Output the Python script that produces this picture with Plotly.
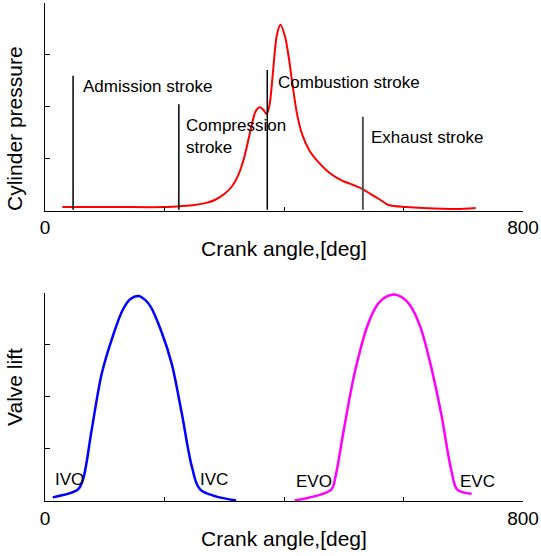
import plotly.graph_objects as go

# Cylinder pressure over one engine cycle (arbitrary units, 0-4)
angle_p = [29, 120, 200, 230, 250, 270, 285, 300, 313, 324, 334, 344, 352, 359, 365, 371,
           376, 381, 388, 394, 402, 408, 414, 422, 431, 443, 458, 477, 497, 515, 531, 545,
           561, 575, 605, 633, 689, 721]
pressure = [0.07, 0.07, 0.07, 0.09, 0.11, 0.15, 0.21, 0.32, 0.47, 0.70, 1.05, 1.55, 1.90,
            1.99, 1.95, 1.86, 2.05, 2.60, 3.38, 3.58, 3.34, 2.95, 2.45, 1.85, 1.45, 1.15,
            0.93, 0.72, 0.58, 0.50, 0.42, 0.32, 0.21, 0.11, 0.07, 0.05, 0.03, 0.05]

# Stroke boundary markers
stroke_angle = [47, 224, 372, 532]
stroke_top = [2.60, 2.05, 2.71, 1.81]
stroke_color = ["black", "black", "black", "#555555"]
stroke_width = [1.5, 1.5, 1.5, 2]
stroke_names = ["Admission stroke", "Compression<br>stroke", "Combustion stroke", "Exhaust stroke"]
stroke_label_x = [60, 232, 386, 543]
stroke_label_y = [2.40, 1.43, 2.46, 1.40]

# Valve lift profiles
angle_iv = [13, 55, 64, 78, 95, 113, 130, 143, 156, 168, 177, 194, 212, 229, 246, 260, 320]
lift_iv = [0.07, 0.22, 0.43, 1.36, 2.45, 3.15, 3.67, 3.88, 3.94, 3.86, 3.73, 3.28, 2.64,
           1.68, 0.65, 0.22, 0.01]
angle_ev = [418, 479, 486, 500, 518, 541, 558, 572, 585, 598, 611, 628, 645, 663, 680, 690, 714]
lift_ev = [0.01, 0.22, 0.46, 1.36, 2.45, 3.41, 3.80, 3.93, 3.97, 3.91, 3.76, 3.35, 2.64,
           1.68, 0.59, 0.22, 0.14]

valve_labels = ["IVO", "IVC", "EVO", "EVC"]
valve_label_x = [14, 256, 417, 691]
valve_label_y = [0.41, 0.41, 0.38, 0.38]

x_ticks = [0, 200, 400, 600, 800]
x_ticktext = ["0", "", "", "", "800"]
y_ticks = [0, 1, 2, 3, 4]

FONT = "Liberation Sans, Arial, sans-serif"

fig = go.Figure()

fig.add_trace(go.Scatter(x=angle_p, y=pressure, mode="lines",
                         line=dict(color="#ff0000", width=2, shape="spline", smoothing=0.8),
                         xaxis="x", yaxis="y", showlegend=False))

for a, top, c, w in zip(stroke_angle, stroke_top, stroke_color, stroke_width):
    fig.add_trace(go.Scatter(x=[a, a], y=[0.02, top], mode="lines",
                             line=dict(color=c, width=w),
                             xaxis="x", yaxis="y", showlegend=False))

fig.add_trace(go.Scatter(x=angle_iv, y=lift_iv, mode="lines",
                         line=dict(color="#0000ff", width=2.5, shape="spline", smoothing=0.9),
                         xaxis="x2", yaxis="y2", showlegend=False))
fig.add_trace(go.Scatter(x=angle_ev, y=lift_ev, mode="lines",
                         line=dict(color="#ff00ff", width=2.5, shape="spline", smoothing=0.9),
                         xaxis="x2", yaxis="y2", showlegend=False))

annotations = []
for t, x, y in zip(stroke_names, stroke_label_x, stroke_label_y):
    annotations.append(dict(text=t, x=x, y=y, xref="x", yref="y", xanchor="left",
                            yanchor="middle", showarrow=False, align="left",
                            font=dict(size=17, color="black", family=FONT)))
for t, x, y in zip(valve_labels, valve_label_x, valve_label_y):
    annotations.append(dict(text=t, x=x, y=y, xref="x2", yref="y2", xanchor="left",
                            yanchor="middle", showarrow=False,
                            font=dict(size=17, color="black", family=FONT)))

# Vertical axis titles
for t, y in [("Cylinder pressure", 0.749), ("Valve lift", 0.229)]:
    annotations.append(dict(text=t, x=-0.0628, y=y, xref="paper", yref="paper",
                            xanchor="center", yanchor="middle", textangle=-90,
                            showarrow=False,
                            font=dict(size=21, color="black", family=FONT)))

xaxis_style = dict(range=[0, 800], tickvals=x_ticks, ticktext=x_ticktext,
                   ticks="inside", ticklen=4, tickcolor="black", showline=True,
                   linecolor="black", linewidth=1, showgrid=False, zeroline=False,
                   tickfont=dict(size=19, color="black", family=FONT),
                   title=dict(text="Crank angle,[deg]", standoff=3,
                              font=dict(size=21, color="black", family=FONT)))
yaxis_style = dict(range=[0, 4], tickvals=y_ticks, showticklabels=False,
                   ticks="inside", ticklen=5, tickcolor="black", showline=True,
                   linecolor="black", linewidth=1, showgrid=False, zeroline=False)

fig.update_layout(
    width=541, height=556,
    margin=dict(l=45, r=18, t=3, b=55),
    paper_bgcolor="white", plot_bgcolor="white",
    xaxis=dict(**xaxis_style, anchor="y"),
    yaxis=dict(**yaxis_style, domain=[0.583, 1], anchor="x"),
    xaxis2=dict(**xaxis_style, anchor="y2"),
    yaxis2=dict(**yaxis_style, domain=[0, 0.418], anchor="x2"),
    annotations=annotations,
)

fig.write_html("out.html")
